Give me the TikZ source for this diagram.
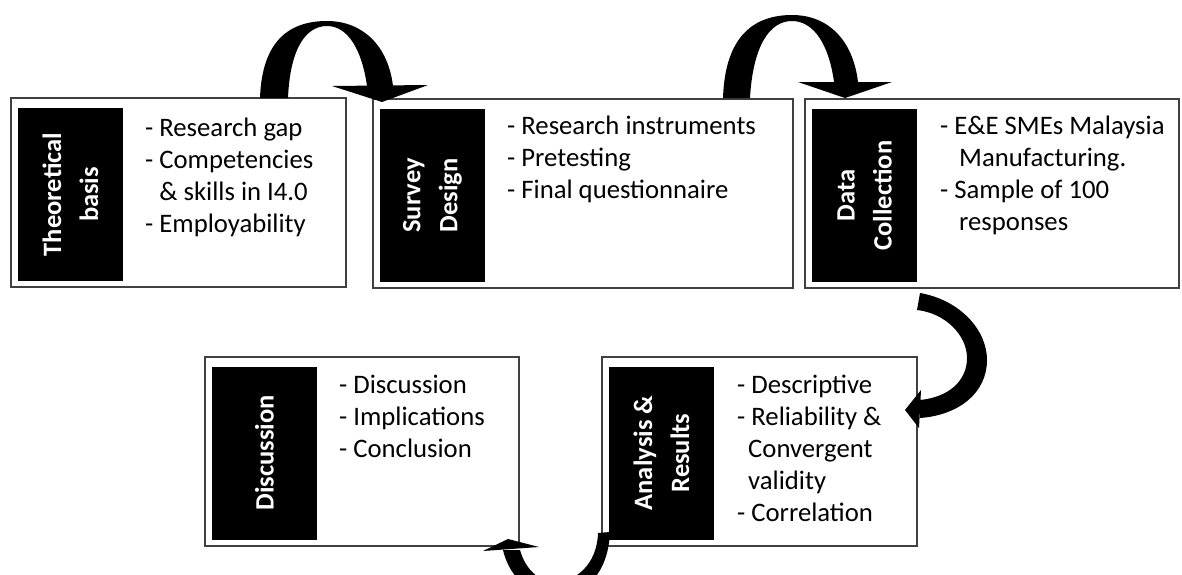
\documentclass[tikz,border=0pt]{standalone}
\usepackage{fontspec}
\setmainfont{Carlito}
\begin{document}
\begin{tikzpicture}[x=1pt,y=-1pt,
  outerbox/.style={draw=black!75, line width=1.2pt, fill=white, inner sep=0pt, minimum height=189pt},
  labelbox/.style={fill=black, text=white, rotate=90, inner sep=0pt, minimum width=173pt, minimum height=105pt,
     align=center, font=\fontsize{26.5}{37}\selectfont\bfseries},
  itemtext/.style={anchor=base west, inner sep=0pt, font=\fontsize{26.7}{32.2}\selectfont},
  blockarrow/.style={fill=black, draw=none}]
\useasboundingbox (0,0) rectangle (1182,574);
\clip (0,0) rectangle (1182,574);

% outer boxes
\node[outerbox, minimum width=335pt] (b1) at (178.5,192.5) {};
\node[outerbox, minimum width=420pt] (b2) at (583,193.5) {};
\node[outerbox, minimum width=374pt] (b3) at (992,193.5) {};
\node[outerbox, minimum width=314pt] (b4) at (362,451.5) {};
\node[outerbox, minimum width=315pt] (b5) at (759.5,451.5) {};

% black label boxes
\node[labelbox] (l1) at (70.5,194.5) {Theoretical\\basis};
\node[labelbox] (l2) at (432.5,195.5) {Survey\\Design};
\node[labelbox] (l3) at (864.5,195.5) {Data\\Collection};
\node[labelbox] (l4) at (264.5,453) {Discussion};
\node[labelbox] (l5) at (661.5,453) {Analysis \&\\Results};

% item texts
\node[itemtext] (t1) at (145,136) {\begin{tabular}[t]{@{}l@{}}- Research gap\\- Competencies\\\hphantom{- }\& skills in I4.0\\- Employability\end{tabular}};
\node[itemtext] (t2) at (507,134) {\begin{tabular}[t]{@{}l@{}}- Research instruments\\- Pretesting\\- Final questionnaire\end{tabular}};
\node[itemtext] (t3) at (940,134) {\begin{tabular}[t]{@{}l@{}}- E\&E SMEs Malaysia\\\hspace{19pt}Manufacturing.\\- Sample of 100\\\hspace{19pt}responses\end{tabular}};
\node[itemtext] (t4) at (339,393) {\begin{tabular}[t]{@{}l@{}}- Discussion\\- Implications\\- Conclusion\end{tabular}};
\node[itemtext] (t5) at (737,393) {\begin{tabular}[t]{@{}l@{}}- Descriptive\\- Reliability \&\\\hspace{11pt}Convergent\\\hspace{11pt}validity\\- Correlation\end{tabular}};

% arrow 1: Theoretical -> Survey
\fill[blockarrow] (260,98) .. controls (262,40) and (290,21) .. (327,21)
   .. controls (362,21) and (388,45) .. (393,86) -- (367,86)
   .. controls (362,50) and (348,26) .. (327,26)
   .. controls (305,26) and (290,50) .. (288,98) -- cycle;
\fill[blockarrow] (332,86) -- (382,102) -- (428,85) -- cycle;

% arrow 2: Survey -> Data
\fill[blockarrow] (723,98) .. controls (725,35) and (755,15) .. (792,15)
   .. controls (828,15) and (853,40) .. (858,82) -- (834,82)
   .. controls (829,45) and (814,21) .. (792,21)
   .. controls (770,21) and (753,45) .. (750,98) -- cycle;
\fill[blockarrow] (798,82) -- (845,98) -- (892,82) -- cycle;

% arrow 3: Data -> Analysis
\fill[blockarrow] (920,293) .. controls (960,300) and (987,330) .. (987,360)
   .. controls (987,392) and (960,415) .. (920,418) -- (920,400)
   .. controls (950,397) and (967,380) .. (967,358)
   .. controls (967,335) and (945,313) .. (917,310) -- cycle;
\fill[blockarrow] (921,390) -- (905,410) -- (919,428) -- cycle;

% arrow 4: Analysis -> Discussion
\fill[blockarrow] (610,532) .. controls (608,575) and (585,595) .. (555,595)
   .. controls (525,595) and (508,572) .. (503,550) -- (520,550)
   .. controls (525,568) and (538,582) .. (555,582)
   .. controls (575,582) and (597,565) .. (598,533) -- cycle;
\fill[blockarrow] (483,551) -- (508,539) -- (539,547) -- cycle;
\end{tikzpicture}
\end{document}
